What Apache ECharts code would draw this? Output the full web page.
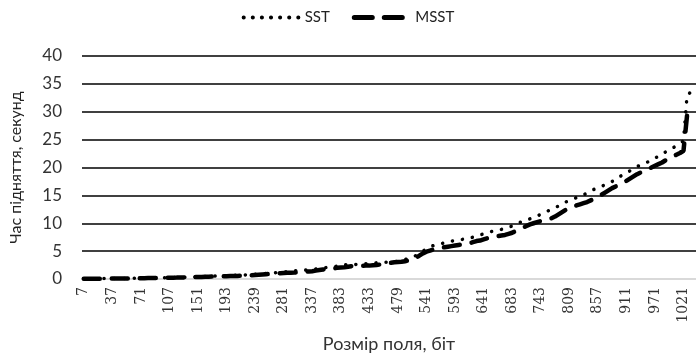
<!DOCTYPE html>
<html>
<head>
<meta charset="utf-8">
<script src="https://cdn.jsdelivr.net/npm/echarts@6/dist/echarts.min.js"></script>
<style>html,body{margin:0;padding:0;background:#fff}#c{width:696px;height:358px}</style>
</head>
<body>
<div id="c"></div>
<script>
const categories = [7, 11, 13, 17, 19, 23, 29, 31, 37, 41, 43, 47, 53, 59, 61, 67, 71, 73, 79, 83, 89, 97, 101, 103, 107, 109, 113, 127, 131, 137, 139, 149, 151, 157, 163, 167, 173, 179, 181, 191, 193, 197, 199, 211, 223, 227, 229, 233, 239, 241, 251, 257, 263, 269, 271, 277, 281, 283, 293, 307, 311, 313, 317, 331, 337, 347, 349, 353, 359, 367, 373, 379, 383, 389, 397, 401, 409, 419, 421, 431, 433, 439, 443, 449, 457, 461, 463, 467, 479, 487, 491, 499, 503, 509, 521, 523, 541, 547, 557, 563, 569, 571, 577, 587, 593, 599, 601, 607, 613, 617, 619, 631, 641, 643, 647, 653, 659, 661, 673, 677, 683, 691, 701, 709, 719, 727, 733, 739, 743, 751, 757, 761, 769, 773, 787, 797, 809, 811, 821, 823, 827, 829, 839, 853, 857, 859, 863, 877, 881, 883, 887, 907, 911, 919, 929, 937, 941, 947, 953, 967, 971, 977, 983, 991, 997, 1009, 1013, 1019, 1021, 1031, 1033, 1039].map(String);

const sst = [
  0.05,0.05,0.05,0.06,0.06,0.07,0.07,0.08,0.08,0.09,
  0.1,0.1,0.11,0.12,0.13,0.14,0.15,0.16,0.17,0.18,
  0.2,0.21,0.22,0.23,0.25,0.26,0.28,0.3,0.31,0.33,
  0.35,0.37,0.4,0.42,0.45,0.48,0.5,0.53,0.56,0.58,
  0.6,0.62,0.65,0.68,0.7,0.72,0.75,0.8,0.85,0.9,
  0.95,1.0,1.05,1.1,1.15,1.2,1.25,1.3,1.38,1.45,
  1.5,1.55,1.6,1.65,1.7,1.8,1.9,2.0,2.05,2.1,
  2.2,2.3,2.4,2.55,2.6,2.6,2.6,2.65,2.7,2.75,
  2.8,2.85,2.9,2.95,3.0,3.0,3.05,3.1,3.2,3.3,
  3.5,3.7,3.9,4.2,4.6,5.0,5.4,5.8,6.0,6.2,
  6.3,6.5,6.6,6.8,6.9,7.0,7.1,7.2,7.3,7.5,
  7.7,7.9,8.1,8.3,8.5,8.6,8.8,8.9,9.1,9.3,
  9.5,9.8,10.1,10.4,10.6,10.8,11.0,11.3,11.6,11.9,
  12.2,12.5,12.8,13.1,13.4,13.8,14.1,14.3,14.6,14.8,
  15.1,15.4,15.8,16.1,16.4,16.6,16.9,17.2,17.5,17.8,
  18.3,18.7,19.0,19.4,19.8,20.2,20.4,20.7,21.0,21.4,
  21.7,22.0,22.4,22.8,23.2,23.5,23.9,24.3,24.8,33.0,
  33.5,34.0
];

const msst = [
  0.04,0.04,0.05,0.05,0.05,0.06,0.06,0.07,0.07,0.08,
  0.09,0.09,0.1,0.11,0.12,0.13,0.14,0.15,0.16,0.17,
  0.18,0.19,0.2,0.21,0.22,0.24,0.25,0.27,0.28,0.3,
  0.32,0.34,0.36,0.38,0.4,0.42,0.44,0.46,0.48,0.5,
  0.5,0.52,0.54,0.55,0.57,0.58,0.6,0.65,0.7,0.75,
  0.8,0.85,0.9,0.95,1.0,1.05,1.08,1.1,1.12,1.15,
  1.2,1.25,1.3,1.35,1.4,1.5,1.6,1.7,1.8,1.85,
  1.9,2.0,2.05,2.1,2.2,2.3,2.3,2.35,2.35,2.4,
  2.4,2.45,2.5,2.6,2.7,2.8,2.9,3.0,3.05,3.1,
  3.2,3.3,3.4,3.8,4.2,4.6,4.9,5.1,5.3,5.5,
  5.6,5.7,5.8,5.9,6.0,6.1,6.2,6.3,6.4,6.6,
  6.8,6.9,7.1,7.3,7.4,7.6,7.7,7.8,7.9,8.1,
  8.3,8.6,8.9,9.2,9.5,9.8,10.0,10.2,10.4,10.5,
  10.7,10.9,11.2,11.6,12.0,12.4,12.6,12.9,13.2,13.4,
  13.6,13.8,14.1,14.4,14.7,15.1,15.5,15.9,16.3,16.6,
  16.9,17.2,17.6,18.0,18.4,18.8,19.1,19.4,19.7,20.0,
  20.3,20.6,20.9,21.3,21.6,21.9,22.3,22.6,23.0,29.4,
  null,null
];

const yTicks = { min: 0, max: 40, interval: 5 };
const seriesNames = ['SST', 'MSST'];
const xTitle = 'Розмір поля, біт';
const yTitle = 'Час підняття, секунд';

const sans = 'Lato, "Open Sans", sans-serif';
const chart = echarts.init(document.getElementById('c'), null, { renderer: 'canvas' });
chart.setOption({
  animation: false,
  backgroundColor: '#ffffff',
  legend: {
    top: 5,
    left: 'center',
    itemWidth: 56,
    itemHeight: 12,
    itemGap: 22,
    itemStyle: { opacity: 0 },
    textStyle: { fontFamily: sans, fontSize: 15, color: '#222' },
    data: [
      { name: seriesNames[0], lineStyle: { width: 4, type: [0.1, 9], cap: 'round', color: '#000' } },
      { name: seriesNames[1], lineStyle: { width: 5, type: [18, 12], cap: 'round', color: '#000' } }
    ]
  },
  grid: { left: 82, right: -5, top: 56, bottom: 79, containLabel: false },
  xAxis: {
    type: 'category',
    data: categories,
    boundaryGap: true,
    name: xTitle,
    nameLocation: 'middle',
    nameGap: 56,
    nameTextStyle: { fontFamily: sans, fontSize: 18, color: '#333' },
    axisLine: { lineStyle: { color: '#d9d9d9', width: 2 } },
    axisTick: { show: false },
    axisLabel: {
      interval: 7,
      rotate: 90,
      margin: 8,
      fontFamily: '"DejaVu Serif", serif',
      fontSize: 14,
      color: '#333'
    }
  },
  yAxis: {
    type: 'value',
    min: yTicks.min,
    max: yTicks.max,
    interval: yTicks.interval,
    name: yTitle,
    nameLocation: 'middle',
    nameGap: 58,
    nameRotate: 90,
    nameTextStyle: { fontFamily: sans, fontSize: 16, color: '#222' },
    axisLine: { show: false },
    axisTick: { show: false },
    axisLabel: { margin: 20, fontFamily: sans, fontSize: 17, color: '#333' },
    splitLine: { lineStyle: { color: '#000', width: 1.5 } }
  },
  series: [
    {
      name: seriesNames[0],
      type: 'line',
      data: sst,
      symbol: 'none',
      z: 3,
      lineStyle: { color: '#000', width: 3.5, type: [0.1, 10], cap: 'round' },
      itemStyle: { color: '#000' }
    },
    {
      name: seriesNames[1],
      type: 'line',
      data: msst,
      symbol: 'none',
      z: 2,
      lineStyle: { color: '#000', width: 4.5, type: [16, 12], cap: 'round' },
      itemStyle: { color: '#000' }
    }
  ]
});
</script>
</body>
</html>
